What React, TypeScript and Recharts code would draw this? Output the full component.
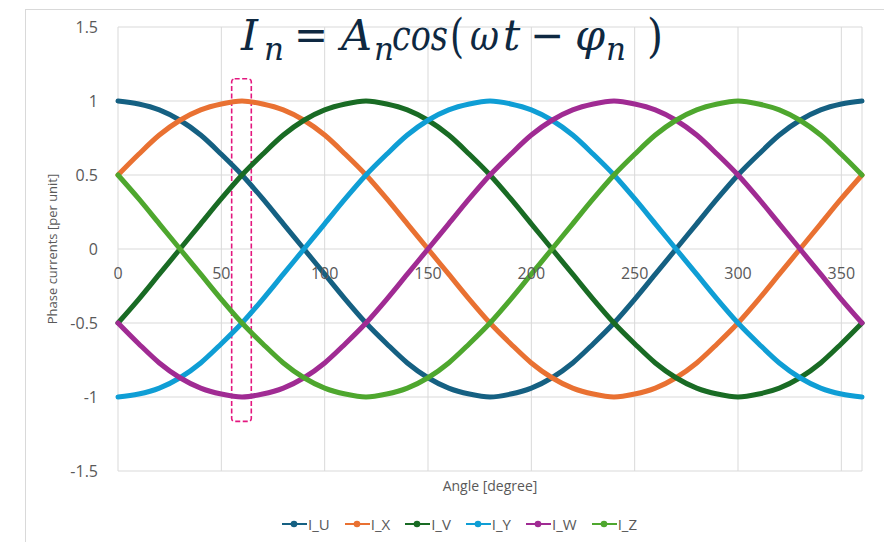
import React from "react";
import { LineChart, Line, XAxis, YAxis, CartesianGrid, ReferenceArea, Label } from "recharts";

// Rotor angle samples, degrees
const angles = [
  0, 10, 20, 30, 40, 50, 60, 70, 80, 90, 100, 110, 120, 130, 140, 150, 160, 170, 180,
  190, 200, 210, 220, 230, 240, 250, 260, 270, 280, 290, 300, 310, 320, 330, 340, 350, 360,
];

// Phase currents in per unit at each angle
const iU = [
  1, 0.98, 0.94, 0.87, 0.77, 0.64, 0.5, 0.34, 0.17, 0, -0.17, -0.34, -0.5, -0.64, -0.77, -0.87, -0.94, -0.98, -1,
  -0.98, -0.94, -0.87, -0.77, -0.64, -0.5, -0.34, -0.17, 0, 0.17, 0.34, 0.5, 0.64, 0.77, 0.87, 0.94, 0.98, 1,
];
const iX = [
  0.5, 0.64, 0.77, 0.87, 0.94, 0.98, 1, 0.98, 0.94, 0.87, 0.77, 0.64, 0.5, 0.34, 0.17, 0, -0.17, -0.34, -0.5,
  -0.64, -0.77, -0.87, -0.94, -0.98, -1, -0.98, -0.94, -0.87, -0.77, -0.64, -0.5, -0.34, -0.17, 0, 0.17, 0.34, 0.5,
];
const iV = [
  -0.5, -0.34, -0.17, 0, 0.17, 0.34, 0.5, 0.64, 0.77, 0.87, 0.94, 0.98, 1, 0.98, 0.94, 0.87, 0.77, 0.64, 0.5,
  0.34, 0.17, 0, -0.17, -0.34, -0.5, -0.64, -0.77, -0.87, -0.94, -0.98, -1, -0.98, -0.94, -0.87, -0.77, -0.64, -0.5,
];
const iY = [
  -1, -0.98, -0.94, -0.87, -0.77, -0.64, -0.5, -0.34, -0.17, 0, 0.17, 0.34, 0.5, 0.64, 0.77, 0.87, 0.94, 0.98, 1,
  0.98, 0.94, 0.87, 0.77, 0.64, 0.5, 0.34, 0.17, 0, -0.17, -0.34, -0.5, -0.64, -0.77, -0.87, -0.94, -0.98, -1,
];
const iW = [
  -0.5, -0.64, -0.77, -0.87, -0.94, -0.98, -1, -0.98, -0.94, -0.87, -0.77, -0.64, -0.5, -0.34, -0.17, 0, 0.17, 0.34, 0.5,
  0.64, 0.77, 0.87, 0.94, 0.98, 1, 0.98, 0.94, 0.87, 0.77, 0.64, 0.5, 0.34, 0.17, 0, -0.17, -0.34, -0.5,
];
const iZ = [
  0.5, 0.34, 0.17, 0, -0.17, -0.34, -0.5, -0.64, -0.77, -0.87, -0.94, -0.98, -1, -0.98, -0.94, -0.87, -0.77, -0.64, -0.5,
  -0.34, -0.17, 0, 0.17, 0.34, 0.5, 0.64, 0.77, 0.87, 0.94, 0.98, 1, 0.98, 0.94, 0.87, 0.77, 0.64, 0.5,
];

const xTicks = [0, 50, 100, 150, 200, 250, 300, 350];
const yTicks = [-1.5, -1, -0.5, 0, 0.5, 1, 1.5];

// Highlighted angle window around 60 degrees
const windowX = [55, 64.5];
const windowY = [-1.165, 1.15];

const series = [
  { key: "I_U", values: iU, color: "#156082" },
  { key: "I_X", values: iX, color: "#e97132" },
  { key: "I_V", values: iV, color: "#196b24" },
  { key: "I_Y", values: iY, color: "#0f9ed5" },
  { key: "I_W", values: iW, color: "#a02b93" },
  { key: "I_Z", values: iZ, color: "#4ea72e" },
];

const rows = angles.map((a, i) => {
  const r: Record<string, number> = { angle: a };
  series.forEach((s) => {
    r[s.key] = s.values[i];
  });
  return r;
});

const FONT = "'Open Sans', 'Noto Sans', sans-serif";
const TEXT = "#595959";
const W = 884;
const H = 542;
const X_AXIS_H = 30;
const M = { top: 27, right: 22, bottom: 71 - X_AXIS_H, left: 0 };
const PLOT_H = H - M.top - M.bottom - X_AXIS_H;

// Category labels sit just under the horizontal axis, which crosses at y = 0
const XTick = (props: any) => {
  const { x, y, payload } = props;
  return (
    <text
      x={x}
      y={y - PLOT_H / 2 + 24}
      textAnchor="middle"
      dominantBaseline="central"
      fill={TEXT}
      fontSize={16}
      fontFamily={FONT}
    >
      {payload.value}
    </text>
  );
};

const WindowShape = (props: any) => {
  const { x, y, width, height } = props;
  return (
    <rect
      x={x}
      y={y}
      width={width}
      height={height}
      rx={3}
      ry={3}
      fill="none"
      stroke="#e3177f"
      strokeWidth={1.6}
      strokeDasharray="5 2.5"
    />
  );
};

const Title = () => {
  const c = "#0e2841";
  const fam = "'DejaVu Serif', 'Liberation Serif', serif";
  const base = 50;
  const sub = 60;
  const part = (t: string, x: number, italic: boolean, y = base, fs = 43, w?: number) => (
    <text
      x={x}
      y={y}
      textLength={w}
      lengthAdjust={w ? "spacingAndGlyphs" : undefined}
      fontFamily={fam}
      fontStyle={italic ? "italic" : "normal"}
      fontSize={fs}
      fill={c}
    >
      {t}
    </text>
  );
  return (
    <svg width={W} height={80} style={{ position: "absolute", left: 0, top: 0, pointerEvents: "none" }}>
      {part("I", 241, true)}
      {part("n", 264, true, sub, 31)}
      {part("=", 294, false, base, 43, 34)}
      {part("A", 341, true)}
      {part("n", 374, true, sub, 31)}
      {part("cos", 392, true, base, 43, 56)}
      {part("(", 450, false, base + 2, 46, 14)}
      {part("ω", 470, true, base, 43, 29)}
      {part("t", 503, true)}
      {part("−", 530, false, base, 43, 34)}
      {part("φ", 575, true)}
      {part("n", 606, true, sub, 31)}
      {part(")", 647, false, base + 2, 46, 16)}
    </svg>
  );
};

const LegendRow = () => (
  <div
    style={{
      position: "absolute",
      left: 25,
      width: 869,
      top: 514,
      height: 20,
      display: "flex",
      justifyContent: "center",
      alignItems: "center",
      gap: 15,
      fontFamily: FONT,
      fontSize: 15,
      color: TEXT,
    }}
  >
    {series.map((s) => (
      <div key={s.key} style={{ display: "flex", alignItems: "center" }}>
        <svg width={25} height={10} style={{ marginRight: 1 }}>
          <line x1={0} y1={5} x2={25} y2={5} stroke={s.color} strokeWidth={2} />
          <circle cx={12} cy={5} r={3.3} fill={s.color} />
        </svg>
        <span>{s.key}</span>
      </div>
    ))}
  </div>
);

export default function App() {
  return (
    <div
      style={{
        position: "fixed",
        left: 0,
        top: 0,
        width: W,
        height: H,
        overflow: "hidden",
        background: "#ffffff",
        fontFamily: FONT,
      }}
    >
      <div
        style={{
          position: "absolute",
          left: 25,
          top: 9,
          width: 900,
          height: 600,
          border: "1px solid #d9d9d9",
        }}
      />
      <div style={{ position: "absolute", left: 0, top: 0 }}>
        <LineChart width={W} height={H} data={rows} margin={M}>
          <CartesianGrid stroke="#d9d9d9" strokeWidth={1} />
          <XAxis
            type="number"
            dataKey="angle"
            domain={[0, 360]}
            ticks={xTicks}
            axisLine={false}
            tickLine={false}
            tickSize={0}
            tickMargin={0}
            height={X_AXIS_H}
            tick={<XTick />}
            interval={0}
          >
            <Label
              content={(p: any) => {
                const vb = p.viewBox;
                return (
                  <text
                    x={vb.x + vb.width / 2}
                    y={vb.y + 14}
                    textAnchor="middle"
                    dominantBaseline="central"
                    fill={TEXT}
                    fontSize={14}
                    fontFamily={FONT}
                  >
                    Angle [degree]
                  </text>
                );
              }}
            />
          </XAxis>
          <YAxis
            type="number"
            domain={[-1.5, 1.5]}
            ticks={yTicks}
            width={118}
            axisLine={false}
            tickLine={false}
            tickSize={0}
            tickMargin={20}
            tick={{ fill: TEXT, fontSize: 16, fontFamily: FONT }}
            interval={0}
          >
            <Label
              content={(p: any) => {
                const vb = p.viewBox;
                const cx = 52;
                const cy = vb.y + vb.height / 2;
                return (
                  <text
                    x={cx}
                    y={cy}
                    transform={`rotate(-90 ${cx} ${cy})`}
                    textAnchor="middle"
                    dominantBaseline="central"
                    fill={TEXT}
                    fontSize={13}
                    fontFamily={FONT}
                  >
                    Phase currents [per unit]
                  </text>
                );
              }}
            />
          </YAxis>
          {series.map((s) => (
            <Line
              key={s.key}
              type="monotone"
              dataKey={s.key}
              stroke={s.color}
              strokeWidth={5}
              strokeLinecap="round"
              dot={false}
              activeDot={false}
              isAnimationActive={false}
            />
          ))}
          <ReferenceArea
            x1={windowX[0]}
            x2={windowX[1]}
            y1={windowY[0]}
            y2={windowY[1]}
            shape={<WindowShape />}
            ifOverflow="visible"
          />
        </LineChart>
      </div>
      <Title />
      <LegendRow />
    </div>
  );
}
